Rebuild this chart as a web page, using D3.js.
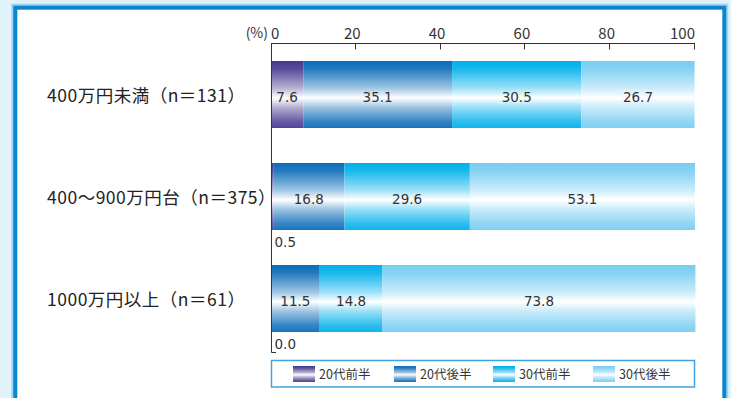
<!DOCTYPE html>
<html><head><meta charset="utf-8">
<script src="https://cdn.jsdelivr.net/npm/d3@7"></script>
<style>
html,body{margin:0;padding:0;background:#e0f2fa;}
svg{display:block;}
</style></head>
<body>
<svg id="c" width="731" height="398"></svg>
<script>
const categories = ["400万円未満（n＝131）", "400〜900万円台（n＝375）", "1000万円以上（n＝61）"];
const seriesNames = ["20代前半", "20代後半", "30代前半", "30代後半"];
const s20early = [7.6, 0.5, 0.0];
const s20late  = [35.1, 16.8, 11.5];
const s30early = [30.5, 29.6, 14.8];
const s30late  = [26.7, 53.1, 73.8];
const tickValues = [0, 20, 40, 60, 80, 100];
const colors = ["#46378f", "#0a6cb8", "#00b0eb", "#78cdf2"];

const series = [s20early, s20late, s30early, s30late];
const svg = d3.select("#c");
const defs = svg.append("defs");

// frame
svg.append("rect").attr("x", 14.3).attr("y", 6.7).attr("width", 711).attr("height", 420)
  .attr("fill", "none").attr("stroke", "#9fd3ef").attr("stroke-width", 6);
svg.append("rect").attr("x", 15.3).attr("y", 7.7).attr("width", 709).attr("height", 420)
  .attr("fill", "#ffffff").attr("stroke", "#0a86cf").attr("stroke-width", 4);

const x = d3.scaleLinear().domain([0, 100]).range([271, 695]);
const y = d3.scaleBand().domain(categories).range([43.5, 349.5]).paddingInner(0.343).paddingOuter(0.1715);

const mix = (c, t) => d3.interpolateRgb(c, "#ffffff")(t);
colors.forEach((c, i) => {
  const g = defs.append("linearGradient").attr("id", "g" + i)
    .attr("x1", 0).attr("y1", 0).attr("x2", 0).attr("y2", 1);
  [[0, 0], [0.12, 0.1], [0.4, 0.6], [0.55, 1], [0.7, 0.58], [0.9, 0.18], [1, 0.06]].forEach(([o, t]) => {
    g.append("stop").attr("offset", o).attr("stop-color", mix(c, t));
  });
});

// stacked data
const rows = categories.map((cat, r) => {
  let acc = 0;
  return series.map((s, i) => {
    const v = s[r];
    const seg = {cat, i, v, x0: acc, x1: acc + v};
    acc += v;
    return seg;
  });
});

const segs = rows.flat();
svg.append("g").selectAll("rect").data(segs).join("rect")
  .attr("x", d => x(d.x0)).attr("width", d => Math.max(0, x(d.x1) - x(d.x0)))
  .attr("y", d => y(d.cat)).attr("height", y.bandwidth())
  .attr("fill", d => `url(#g${d.i})`);

// value labels
const valFont = "DejaVu Sans";
svg.append("g").selectAll("text").data(segs).join("text")
  .attr("x", d => d.v < 3 ? x(0) + 3.5 : x((d.x0 + d.x1) / 2))
  .attr("y", d => d.v < 3 ? y(d.cat) + y.bandwidth() + 17 : y(d.cat) + y.bandwidth() / 2 + 7)
  .attr("text-anchor", d => d.v < 3 ? "start" : "middle")
  .attr("font-family", valFont).attr("font-size", 13.5).attr("fill", "#333")
  .text(d => d.v.toFixed(1));

// axis
const ax = svg.append("g").attr("stroke", "#333").attr("stroke-width", 1).attr("fill", "none");
ax.append("line").attr("x1", x(0)).attr("x2", x(100)).attr("y1", 43.5).attr("y2", 43.5);
ax.selectAll("line.t").data(tickValues.slice(1)).join("line").attr("class", "t")
  .attr("x1", d => Math.round(x(d)) - 0.5).attr("x2", d => Math.round(x(d)) - 0.5).attr("y1", 43.5).attr("y2", 49.5);
ax.append("path").attr("d", `M${x(0) + 0.5},43 V352.5 H276`);

svg.append("g").selectAll("text").data(tickValues).join("text")
  .attr("x", d => d === 0 ? x(d) : d === 100 ? x(d) : x(d) - 3.5)
  .attr("y", 39)
  .attr("text-anchor", d => d === 0 ? "start" : d === 100 ? "end" : "middle")
  .attr("font-family", "Noto Sans CJK JP").attr("font-size", 15).attr("fill", "#333")
  .text(d => d);
svg.append("text").attr("x", 268).attr("y", 37.5).attr("text-anchor", "end")
  .attr("font-family", "Noto Sans CJK JP").attr("font-size", 14).attr("fill", "#333").text("(%)");

// category labels
svg.append("g").selectAll("text").data(categories).join("text")
  .attr("x", 47).attr("y", d => y(d) + y.bandwidth() / 2 + 7)
  .attr("font-family", "Noto Sans CJK JP").attr("font-size", 17.5).attr("letter-spacing", 0.5)
  .attr("fill", "#222")
  .text(d => d);

// legend
svg.append("rect").attr("x", 271.5).attr("y", 360.5).attr("width", 423).attr("height", 26.5)
  .attr("fill", "#fff").attr("stroke", "#3aa6dd").attr("stroke-width", 1.5);
const lx = [293, 394, 493, 593];
const lg = svg.append("g").selectAll("g").data(seriesNames).join("g")
  .attr("transform", (d, i) => `translate(${lx[i]},366)`);
lg.append("rect").attr("width", 22).attr("height", 16).attr("fill", (d, i) => `url(#g${i})`);
lg.append("text").attr("x", 26).attr("y", 12.5)
  .attr("font-family", "Noto Sans CJK JP").attr("font-size", 12.5).attr("fill", "#333").text(d => d);
</script>
</body></html>
